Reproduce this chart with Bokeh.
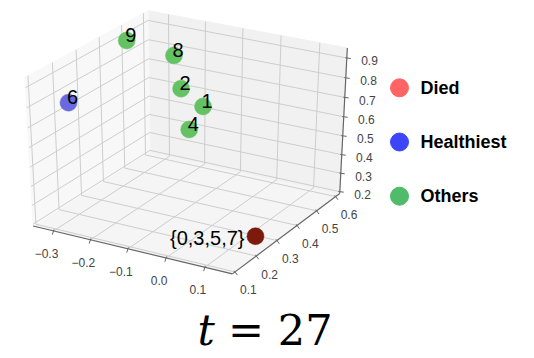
import numpy as np
from bokeh.plotting import figure
from bokeh.models import Range1d
from bokeh.core.properties import value
from bokeh.embed import file_html
from bokeh.resources import INLINE

# ---------------- data ----------------
POINT_LABELS = ["{0,3,5,7}", "1", "2", "4", "6", "8", "9"]
POINT_GROUP = ["Died", "Others", "Others", "Others", "Healthiest", "Others", "Others"]
POINT_X = [0.137, -0.137, -0.225, -0.146, -0.322, -0.266, -0.324]
POINT_Y = [0.257, 0.500, 0.550, 0.450, 0.207, 0.588, 0.469]
POINT_Z = [0.232, 0.614, 0.639, 0.524, 0.759, 0.772, 0.902]

GROUPS = ["Died", "Healthiest", "Others"]

X_TICKS = [-0.3, -0.2, -0.1, 0.0, 0.1]
Y_TICKS = [0.1, 0.2, 0.3, 0.4, 0.5, 0.6]
Z_TICKS = [0.2, 0.3, 0.4, 0.5, 0.6, 0.7, 0.8, 0.9]
X_TICK_LABELS = ["\u22120.3", "\u22120.2", "\u22120.1", "0.0", "0.1"]
Y_TICK_LABELS = ["0.1", "0.2", "0.3", "0.4", "0.5", "0.6"]
Z_TICK_LABELS = ["0.2", "0.3", "0.4", "0.5", "0.6", "0.7", "0.8", "0.9"]

X_LIM = (-0.356, 0.170)
Y_LIM = (0.088, 0.622)
Z_LIM = (0.190, 0.950)

TIME_STEP = 27

# ---------------- layout / style ----------------
W, H = 534, 358
ELEV, AZIM, DIST = 30.0, -60.0, 10.0
SX, SY, CX, CY = 2300.0, 1697.0, 188.3, 137.3

POINT_COLORS = {"Died": "#7d1a0e", "Healthiest": "#6a6ae0", "Others": "#64c264"}
LEGEND_COLORS = {"Died": "#fe6464", "Healthiest": "#3c46f8", "Others": "#50bb69"}
PANE_COLORS = ["#f5f5f5", "#f1f1f1", "#f8f8f8"]
GRID_COLOR = "#cdcdcd"
AXIS_COLOR = "#666666"
TICK_COLOR = "#444444"
SANS = "Liberation Sans"
SERIF = "DejaVu Serif"

_e, _a = np.radians(ELEV), np.radians(AZIM)
N = np.array([np.cos(_e) * np.cos(_a), np.cos(_e) * np.sin(_a), np.sin(_e)])
U = np.array([-np.sin(_a), np.cos(_a), 0.0])
V = np.cross(N, U)


def project(x, y, z):
    x, y, z = np.broadcast_arrays(np.asarray(x, float), np.asarray(y, float),
                                  np.asarray(z, float))
    q = np.stack([(x - X_LIM[0]) / (X_LIM[1] - X_LIM[0]) - 0.5,
                  (y - Y_LIM[0]) / (Y_LIM[1] - Y_LIM[0]) - 0.5,
                  (z - Z_LIM[0]) / (Z_LIM[1] - Z_LIM[0]) - 0.5])
    w = DIST - np.tensordot(N, q, axes=1)
    sx = CX + SX * np.tensordot(U, q, axes=1) / w
    sy = CY - SY * np.tensordot(V, q, axes=1) / w
    return sx, sy, w


p = figure(width=W, height=H, x_range=Range1d(0, W), y_range=Range1d(H, 0),
           x_axis_type=None, y_axis_type=None, toolbar_location=None,
           output_backend="svg", min_border=0)
p.outline_line_color = None
p.background_fill_color = "white"
p.border_fill_color = "white"

x0, x1 = X_LIM
y0, y1 = Y_LIM
z0, z1 = Z_LIM

# panes: floor, back (y = max), left (x = min)
panes = [([x0, x1, x1, x0], [y0, y0, y1, y1], [z0] * 4),
         ([x0, x1, x1, x0], [y1] * 4, [z0, z0, z1, z1]),
         ([x0] * 4, [y0, y1, y1, y0], [z0, z0, z1, z1])]
pxs, pys = [], []
for a, b, c in panes:
    sx, sy, _ = project(a, b, c)
    pxs.append(list(sx))
    pys.append(list(sy))
p.patches(pxs, pys, fill_color=PANE_COLORS, line_color=PANE_COLORS, line_width=1)

# grid lines
gxs, gys = [], []
for t in X_TICKS:
    sx, sy, _ = project([t, t, t], [y0, y1, y1], [z0, z0, z1])
    gxs.append(list(sx)); gys.append(list(sy))
for t in Y_TICKS:
    sx, sy, _ = project([x1, x0, x0], [t, t, t], [z0, z0, z1])
    gxs.append(list(sx)); gys.append(list(sy))
for t in Z_TICKS:
    sx, sy, _ = project([x0, x0, x1], [y0, y1, y1], [t, t, t])
    gxs.append(list(sx)); gys.append(list(sy))
p.multi_line(gxs, gys, line_color=GRID_COLOR, line_width=1)

# axis lines
axs, ays = [], []
for a, b, c in [([x0, x1], [y0, y0], [z0, z0]),
                ([x1, x1], [y0, y1], [z0, z0]),
                ([x1, x1], [y1, y1], [z0, z1])]:
    sx, sy, _ = project(a, b, c)
    axs.append(list(sx)); ays.append(list(sy))
p.multi_line(axs, ays, line_color=AXIS_COLOR, line_width=1.2)

# ticks and tick labels
tick_sets = [
    (project(X_TICKS, y0, z0), X_TICK_LABELS, (-7.0, 22.5)),
    (project(x1, Y_TICKS, z0), Y_TICK_LABELS, (13.4, 18.0)),
    (project(x1, y1, Z_TICKS), Z_TICK_LABELS, (22.7, 3.0)),
]
txs, tys = [], []
for (sx, sy, _), labels, (ox, oy) in tick_sets:
    d = np.hypot(ox, oy)
    ux, uy = ox / d, oy / d
    for xi, yi in zip(sx, sy):
        txs.append([xi - 1.5 * ux, xi + 4.0 * ux])
        tys.append([yi - 1.5 * uy, yi + 4.0 * uy])
    p.text(x=list(sx + ox), y=list(sy + oy), text=labels,
           text_font=value(SANS), text_font_size="12px", text_color=TICK_COLOR,
           text_align="center", text_baseline="middle")
p.multi_line(txs, tys, line_color=AXIS_COLOR, line_width=1)

# points (far first)
psx, psy, pw = project(POINT_X, POINT_Y, POINT_Z)
order = np.argsort(-pw)
p.scatter(x=list(psx[order]), y=list(psy[order]), size=17, marker="circle",
          fill_color=[POINT_COLORS[POINT_GROUP[i]] for i in order],
          line_color=[POINT_COLORS[POINT_GROUP[i]] for i in order], line_width=0.5)

# point labels (anchored at the point, text sitting above-right of it)
single = [i for i, g in enumerate(POINT_GROUP) if g != "Died"]
multi = [i for i, g in enumerate(POINT_GROUP) if g == "Died"]
p.text(x=[psx[i] - 1.5 for i in single], y=[psy[i] - 5.7 for i in single],
       text=[POINT_LABELS[i] for i in single], text_font=value(SANS),
       text_font_size="20px", text_color="black",
       text_align="left", text_baseline="middle")
p.text(x=[psx[i] - 11 for i in multi], y=[psy[i] + 1.5 for i in multi],
       text=[POINT_LABELS[i] for i in multi], text_font=value(SANS),
       text_font_size="20px", text_color="black",
       text_align="right", text_baseline="middle")

# legend
LEG_X, LEG_Y0, LEG_DY = 399, 87.3, 54.2
ly = [LEG_Y0 + k * LEG_DY for k in range(len(GROUPS))]
p.scatter(x=[LEG_X] * len(GROUPS), y=ly, size=18, marker="circle",
          fill_color=[LEGEND_COLORS[g] for g in GROUPS],
          line_color=[LEGEND_COLORS[g] for g in GROUPS])
p.text(x=[LEG_X + 21] * len(GROUPS), y=ly, text=GROUPS, text_font=value(SANS),
       text_font_size="18px", text_font_style="bold", text_color="black",
       text_align="left", text_baseline="middle")

# caption t = 27
p.text(x=[197], y=[329.5], text=["t"], text_font=value(SERIF), text_font_size="43px",
       text_font_style="italic", text_color="black",
       text_align="left", text_baseline="middle")
p.text(x=[332], y=[329.5], text=["= %d" % TIME_STEP], text_font=value(SERIF),
       text_font_size="43px", text_color="black",
       text_align="right", text_baseline="middle")

open("out.html", "w").write(file_html(p, INLINE))
